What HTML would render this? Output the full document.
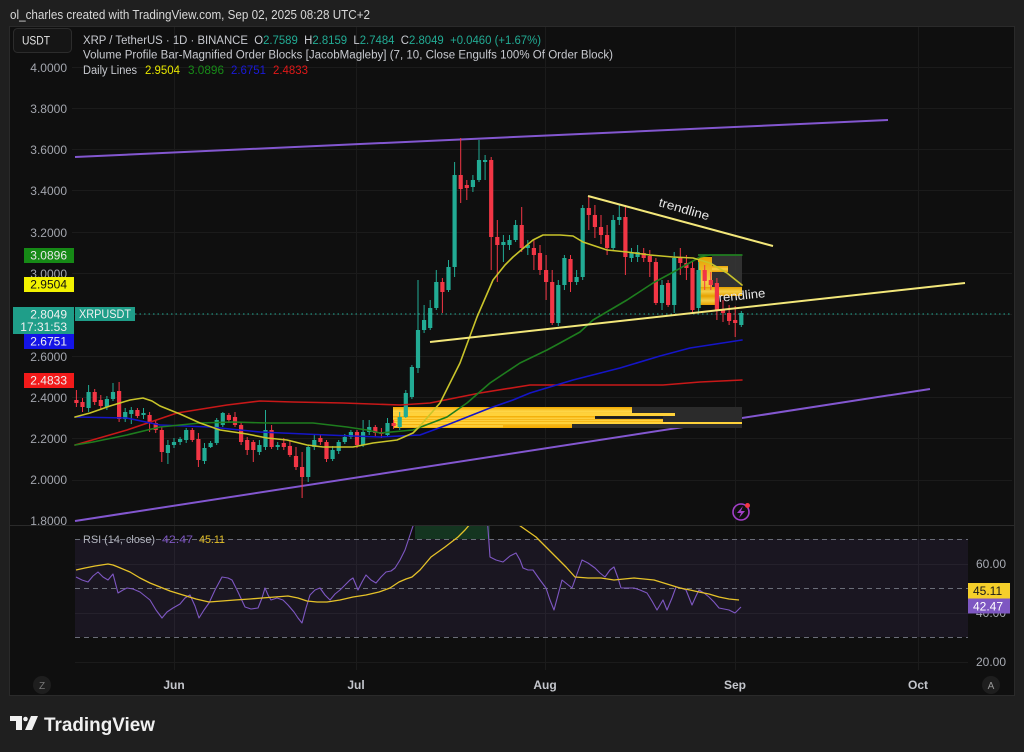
<!DOCTYPE html>
<html><head><meta charset="utf-8"><style>
html,body{margin:0;padding:0;background:#1f1f1f;}
svg{display:block;font-family:"Liberation Sans",sans-serif;}
</style></head><body>
<svg width="1024" height="752" viewBox="0 0 1024 752" xmlns="http://www.w3.org/2000/svg">
<defs>
<clipPath id="main"><rect x="72" y="27" width="940" height="498"/></clipPath>
<clipPath id="rsi"><rect x="72" y="526" width="900" height="144"/></clipPath>
<linearGradient id="ob" x1="0" y1="0" x2="0" y2="1">
<stop offset="0" stop-color="#f2a900"/><stop offset="0.5" stop-color="#ffd84a"/><stop offset="1" stop-color="#f2a900"/>
</linearGradient>
</defs>
<rect width="1024" height="752" fill="#1f1f1f"/>
<rect x="9.5" y="26.5" width="1005" height="669" fill="#0f0f0f" stroke="#2a2a2a"/>

<!-- header -->
<text x="10" y="19" font-size="12.5" fill="#d8d8d8" textLength="360" lengthAdjust="spacingAndGlyphs">ol_charles created with TradingView.com, Sep 02, 2025 08:28 UTC+2</text>

<!-- grid -->
<g stroke="#1b1b1b" stroke-width="1">
<path d="M72 67.5H1012M72 108.5H1012M72 149.5H1012M72 190.5H1012M72 232.5H1012M72 273.5H1012M72 314.5H1012M72 356.5H1012M72 397.5H1012M72 438.5H1012M72 480.5H1012"/>
<path d="M174.5 27V670M356.5 27V670M545.5 27V670M735.5 27V670M918.5 27V670"/>
<path d="M75 564.5H968M75 613.5H968M75 662.5H968"/>
</g>
<line x1="9" y1="525.5" x2="1015" y2="525.5" stroke="#2a2a2a"/>

<g clip-path="url(#main)">
<!-- purple channel -->
<line x1="75" y1="157" x2="888" y2="120" stroke="#8357d0" stroke-width="2"/>
<line x1="75" y1="521" x2="930" y2="389" stroke="#8357d0" stroke-width="2"/>
<!-- current price dotted -->
<line x1="72" y1="314" x2="1012" y2="314" stroke="#22ab94" stroke-width="1" stroke-dasharray="1.5 3"/>

<!-- lower order block -->
<rect x="393" y="407" width="349" height="21" fill="#2b2b2b"/>
<g fill="url(#ob)">
<rect x="393" y="407" width="179" height="21"/>
<rect x="393" y="407" width="239" height="9"/>
<rect x="393" y="413" width="282" height="3" fill="#ffd23a"/>
<rect x="393" y="416" width="202" height="6"/>
<rect x="393" y="419" width="270" height="3"/>
<rect x="393" y="422" width="349" height="2" fill="#ffd23a"/>
<rect x="393" y="424" width="110" height="4"/>
</g>
<rect x="595" y="416.5" width="68" height="1.5" fill="#1a1a1a"/>

<!-- upper order block -->
<rect x="712" y="255" width="30" height="32" fill="#3a3a3a" opacity="0.8"/>
<g fill="url(#ob)" opacity="0.95">
<rect x="698" y="257" width="14" height="48"/>
<rect x="712" y="266" width="16" height="6"/>
<rect x="700" y="287" width="42" height="9"/>
<rect x="700" y="296" width="16" height="9"/>
</g>
<line x1="698" y1="255" x2="742" y2="255" stroke="#2a8a2a" stroke-width="1.5"/>

<!-- candles -->
<path stroke="#22ab94" stroke-width="1" fill="none" d="M88.6 385V412M106.9 396V410M113 383V401M125.2 408V422M131.3 407V424M143.5 408V419M167.9 440V464M174 438V448M180.1 437V445M186.2 428V443M204.5 443V464M210.6 441V448M216.7 418V445M222.8 412V427M259.4 440V455M265.5 410V450M277.7 442V450M308.2 445V482M314.3 434V450M332.6 446V461M338.7 440V454M344.8 434V444M350.9 430V439M363.1 420V447M369.2 420V435M387.5 418V437M399.7 412V430M405.8 390V418M411.9 365V399M418 280V373M424.1 305V333M430.2 300V330M436.3 270V310M448.5 260V292M454.6 162V277M472.9 175V192M479 140V182M485.1 155V180M503.4 235V262M509.5 235V250M515.6 220V242M527.8 240V255M558.3 280V326M564.4 255V290M576.6 270V285M582.7 205V280M613.2 215V250M619.3 205V225M631.5 248V262M637.6 245V262M662 280V310M674.2 252V313M698.6 262V312M741.3 311V327"/>
<path stroke="#22ab94" stroke-width="4.2" fill="none" d="M88.6 392V408M106.9 399V407M113 392V399M125.2 412V419M131.3 410V414M143.5 413V415M167.9 445V453M174 442V445M180.1 439V442M186.2 430V440M204.5 448V461M210.6 443V447M216.7 420V443M222.8 413V425M259.4 445V452M265.5 430V447M277.7 445V447M308.2 447V477M314.3 440V447M332.6 450V459M338.7 442V451M344.8 437V442M350.9 432V437M363.1 432V445M369.2 427V432M387.5 423V435M399.7 417V427M405.8 393V417M411.9 367V397M418 330V368M424.1 320V330M430.2 308V328M436.3 282V308M448.5 267V290M454.6 175V267M472.9 180V187M479 160V180M485.1 160V162M503.4 242V245M509.5 240V245M515.6 225V240M527.8 245V248M558.3 285V323M564.4 258V285M576.6 277V282M582.7 208V277M613.2 220V248M619.3 217V220M631.5 253V258M637.6 252V257M662 285V303M674.2 258V305M698.6 270V308M741.3 313V325"/>
<path stroke="#f23645" stroke-width="1" fill="none" d="M76.4 390V407M82.5 398V412M94.7 389V405M100.8 395V410M119.1 382V422M137.4 408V418M149.6 412V432M155.7 420V433M161.8 427V462M192.3 428V442M198.4 433V467M228.9 413V423M235 412V427M241.1 422V445M247.2 437V455M253.3 440V462M271.6 425V449M283.8 438V450M289.9 440V457M296 447V470M302.1 452V498M320.4 434V445M326.5 440V462M357 430V448M375.3 425V437M381.4 428V438M393.6 420V429M442.4 278V313M460.7 138V203M466.8 180V200M491.2 157V270M497.3 220V282M521.7 207V252M533.9 240V270M540 245V275M546.1 255V300M552.2 270V325M570.5 255V292M588.8 197V230M594.9 205V238M601 215V244M607.1 225V255M625.4 205V275M643.7 248V262M649.8 250V277M655.9 258V305M668.1 280V307M680.3 248V275M686.4 255V280M692.5 262V312M704.7 265V290M710.8 272V290M716.9 278V320M723 300V322M729.1 305V325M735.2 306V337"/>
<path stroke="#f23645" stroke-width="4.2" fill="none" d="M76.4 400V403M82.5 402V407M94.7 392V402M100.8 400V406M119.1 391V419M137.4 410V416M149.6 415V423M155.7 423V430M161.8 430V452M192.3 430V440M198.4 439V460M228.9 415V420M235 417V425M241.1 425V442M247.2 440V450M253.3 442V450M271.6 430V447M283.8 443V447M289.9 446V455M296 456V467M302.1 467V477M320.4 438V442M326.5 442V459M357 432V445M375.3 427V433M381.4 432V434M393.6 423V426M442.4 282V292M460.7 175V189M466.8 185V188M491.2 160V237M497.3 237V245M521.7 225V248M533.9 248V255M540 253V270M546.1 270V282M552.2 282V323M570.5 259V282M588.8 208V215M594.9 215V227M601 227V235M607.1 235V248M625.4 217V257M643.7 253V258M649.8 256V262M655.9 262V303M668.1 283V305M680.3 258V263M686.4 263V268M692.5 268V310M704.7 270V281M710.8 280V285M716.9 283V310M723 310V313M729.1 313V321M735.2 320V323"/>

<!-- moving averages -->
<g fill="none" stroke-width="1.6" stroke-linejoin="round" stroke-linecap="round">
<polyline stroke="#c81818" points="75,445 127,430 177,413 227,405 260,401 293,402 343,403 400,405 430,403 480,393 530,385 600,385 663,385 700,382 742,380"/>
<polyline stroke="#1515c8" points="75,417 127,418 160,425 210,427 260,432 327,435 380,437 420,435 447,425 490,408 513,400 530,393 573,380 620,368 660,356 690,348 742,340"/>
<polyline stroke="#1e7d1e" points="75,445 93,442 127,435 160,427 200,423 233,422 267,423 313,423 347,427 367,430 380,433 413,430 447,417 467,403 490,383 520,363 547,350 560,343 580,332 593,320 627,300 653,283 677,270 700,257 710,255 742,255"/>
<polyline stroke="#c9c42a" points="75,417 90,413 110,406 130,400 143,398 152,401 160,406 180,414 200,423 220,430 247,434 267,438 287,440 307,445 323,447 353,447 373,443 397,440 413,433 420,426 440,403 460,363 477,317 493,280 505,265 513,257 533,240 543,235 560,235 573,236 583,242 607,250 627,252 650,255 673,257 693,258 710,263 727,273 742,285"/>
</g>

<!-- trendlines -->
<line x1="430" y1="342" x2="965" y2="283" stroke="#f3e77a" stroke-width="2"/>
<line x1="588" y1="196" x2="773" y2="246" stroke="#f3e77a" stroke-width="2"/>
<text x="0" y="0" font-size="12.5" fill="#e6e6e6" transform="translate(658,206) rotate(16)" textLength="52" lengthAdjust="spacingAndGlyphs">trendline</text>
<text x="0" y="0" font-size="12.5" fill="#e6e6e6" transform="translate(719,302) rotate(-6)" textLength="47" lengthAdjust="spacingAndGlyphs">rendline</text>

<!-- lightning icon -->
<circle cx="741" cy="512" r="8" fill="none" stroke="#a23fc8" stroke-width="1.6"/>
<path d="M743 506L737 513H741L739 518L745 511H741Z" fill="#a23fc8"/>
<circle cx="747.5" cy="505.5" r="2.5" fill="#f23645"/>
</g>

<!-- RSI pane -->
<rect x="75" y="539" width="893" height="98" fill="#7e57c2" fill-opacity="0.1"/>
<rect x="415" y="526" width="75" height="13" fill="#143520"/>
<g stroke="#6a6d78" stroke-width="1" stroke-dasharray="5 4">
<line x1="75" y1="539.5" x2="968" y2="539.5"/>
<line x1="75" y1="588.5" x2="968" y2="588.5"/>
<line x1="75" y1="637.5" x2="968" y2="637.5"/>
</g>
<g clip-path="url(#rsi)" fill="none" stroke-linejoin="round">
<polyline stroke="#7e57c2" stroke-width="1.1" points="76,577 82,580 88,582 93,576 98,572 103,577 108,580 113,574 118,593 123,590 127,588 133,589 140,592 145,596 150,600 156,610 162,618 167,612 173,608 180,604 185,598 190,595 195,606 199,618 204,610 209,603 215,590 222,577 228,578 232,580 238,592 245,607 251,609 258,608 262,598 265,588 268,595 271,600 277,598 283,600 288,605 294,612 298,618 302,623 306,608 310,595 315,590 320,588 325,595 330,600 335,594 340,590 346,584 350,580 353,578 358,590 362,582 366,575 371,580 376,583 381,577 386,572 391,571 395,568 400,560 405,550 410,535 415,520 425,500 440,485 460,480 480,495 487,515 490,557 496,560 503,562 510,556 516,553 520,560 523,568 528,570 533,570 540,580 546,588 550,600 554,610 558,595 562,580 567,584 572,588 577,574 582,560 588,563 595,568 600,573 605,577 610,570 614,567 618,578 621,588 627,588 634,588 640,590 647,593 652,601 657,610 660,605 663,600 667,610 672,598 676,587 681,588 686,590 692,605 696,596 699,590 704,593 709,597 714,602 719,608 724,609 729,610 735,613 741,607"/>
<polyline stroke="#e6c229" stroke-width="1.3" points="76,570 85,568 95,566 108,564 113,565 118,567 130,572 140,578 150,583 160,587 170,591 183,595 196,599 209,602 222,601 235,600 250,599 262,598 275,597 288,596 298,598 307,601 317,602 327,602 340,600 353,597 366,595 379,592 390,588 399,582 406,579 412,577 420,570 431,557 445,547 458,537 465,530 471,523 480,515 500,513 516,523 526,530 536,537 546,547 556,557 566,567 575,577 588,578 601,578 614,580 624,579 634,578 644,579 654,580 667,584 680,588 690,590 699,592 709,594 719,597 729,599 739,600"/>
</g>
<text x="83" y="543" font-size="11" fill="#b2b5be" textLength="72" lengthAdjust="spacingAndGlyphs">RSI (14, close)</text>
<text x="162" y="543" font-size="11" fill="#7e57c2" textLength="31" lengthAdjust="spacingAndGlyphs">42.47</text>
<text x="199" y="543" font-size="11" fill="#e6c229" textLength="26" lengthAdjust="spacingAndGlyphs">45.11</text>

<!-- RSI axis -->
<g font-size="12" fill="#a8abb3">
<text x="976" y="568">60.00</text>
<text x="976" y="617">40.00</text>
<text x="976" y="666">20.00</text>
</g>
<rect x="968" y="583" width="42" height="15.5" fill="#f5cf2a"/>
<text x="973" y="595" font-size="12" fill="#1a1a1a">45.11</text>
<rect x="968" y="598.5" width="42" height="15" fill="#7e57c2"/>
<text x="973" y="610.5" font-size="12" fill="#ffffff">42.47</text>

<!-- time axis -->
<g font-size="12" font-weight="bold" fill="#c4c6cc" text-anchor="middle">
<text x="174" y="689">Jun</text>
<text x="356" y="689">Jul</text>
<text x="545" y="689">Aug</text>
<text x="735" y="689">Sep</text>
<text x="918" y="689">Oct</text>
</g>
<circle cx="42" cy="685" r="9" fill="#1e1e1e"/>
<text x="42" y="689" font-size="10" fill="#777" text-anchor="middle">Z</text>
<circle cx="991" cy="685" r="9" fill="#1e1e1e"/>
<text x="991" y="689" font-size="10" fill="#999" text-anchor="middle">A</text>

<!-- price axis labels -->
<g font-size="12" fill="#a3a6ae" text-anchor="end">
<text x="67" y="72">4.0000</text>
<text x="67" y="113">3.8000</text>
<text x="67" y="154">3.6000</text>
<text x="67" y="195">3.4000</text>
<text x="67" y="237">3.2000</text>
<text x="67" y="278">3.0000</text>
<text x="67" y="361">2.6000</text>
<text x="67" y="402">2.4000</text>
<text x="67" y="443">2.2000</text>
<text x="67" y="484">2.0000</text>
<text x="67" y="525">1.8000</text>
</g>
<rect x="24" y="248" width="50" height="15" fill="#168a16"/>
<text x="67" y="259.5" font-size="12" fill="#e8e8e8" text-anchor="end">3.0896</text>
<rect x="24" y="277" width="50" height="15" fill="#f2f200"/>
<text x="67" y="288.5" font-size="12" fill="#111" text-anchor="end">2.9504</text>
<rect x="13" y="307" width="61" height="27" fill="#1f9e89"/>
<text x="67" y="318.5" font-size="12" fill="#f0f0f0" text-anchor="end">2.8049</text>
<text x="67" y="331" font-size="12" fill="#f0f0f0" text-anchor="end">17:31:53</text>
<rect x="75" y="307" width="60" height="14" fill="#1f9e89"/>
<text x="79" y="318" font-size="11.5" fill="#f0f0f0" textLength="52" lengthAdjust="spacingAndGlyphs">XRPUSDT</text>
<rect x="24" y="334" width="50" height="15" fill="#1414e6"/>
<text x="67" y="345.5" font-size="12" fill="#f0f0f0" text-anchor="end">2.6751</text>
<rect x="24" y="373" width="50" height="15" fill="#f21a1a"/>
<text x="67" y="384.5" font-size="12" fill="#f0f0f0" text-anchor="end">2.4833</text>

<!-- legend -->
<rect x="13.5" y="28.5" width="58" height="24" rx="4" fill="#151515" stroke="#2c2c2c"/>
<text x="22" y="44.5" font-size="12" fill="#e4e4e4" textLength="28" lengthAdjust="spacingAndGlyphs">USDT</text>
<text x="83" y="44" font-size="11.5" fill="#c8cad0" textLength="458" lengthAdjust="spacingAndGlyphs">XRP / TetherUS · 1D · BINANCE&#160; O<tspan fill="#22ab94">2.7589</tspan>&#160; H<tspan fill="#22ab94">2.8159</tspan>&#160; L<tspan fill="#22ab94">2.7484</tspan>&#160; C<tspan fill="#22ab94">2.8049</tspan>&#160; <tspan fill="#22ab94">+0.0460 (+1.67%)</tspan></text>
<text x="83" y="58.5" font-size="11.5" fill="#c8cad0" textLength="530" lengthAdjust="spacingAndGlyphs">Volume Profile Bar-Magnified Order Blocks [JacobMagleby] (7, 10, Close Engulfs 100% Of Order Block)</text>
<text x="83" y="74" font-size="11.5" fill="#c8cad0" textLength="54" lengthAdjust="spacingAndGlyphs">Daily Lines</text>
<text x="145" y="74" font-size="11.5" fill="#e6e600" textLength="35" lengthAdjust="spacingAndGlyphs">2.9504</text>
<text x="188" y="74" font-size="11.5" fill="#188a18" textLength="36" lengthAdjust="spacingAndGlyphs">3.0896</text>
<text x="231" y="74" font-size="11.5" fill="#1a1ad8" textLength="35" lengthAdjust="spacingAndGlyphs">2.6751</text>
<text x="273" y="74" font-size="11.5" fill="#e01818" textLength="35" lengthAdjust="spacingAndGlyphs">2.4833</text>

<!-- TradingView logo -->
<path d="M10 716H22V730H16V721H10Z" fill="#f0f0f0"/>
<circle cx="25.5" cy="719" r="2.3" fill="#f0f0f0"/>
<path d="M31 716H38L32 730H25Z" fill="#f0f0f0"/>
<text x="44" y="731" font-size="19" font-weight="bold" fill="#f0f0f0" textLength="111" lengthAdjust="spacingAndGlyphs">TradingView</text>
</svg>
</body></html>
